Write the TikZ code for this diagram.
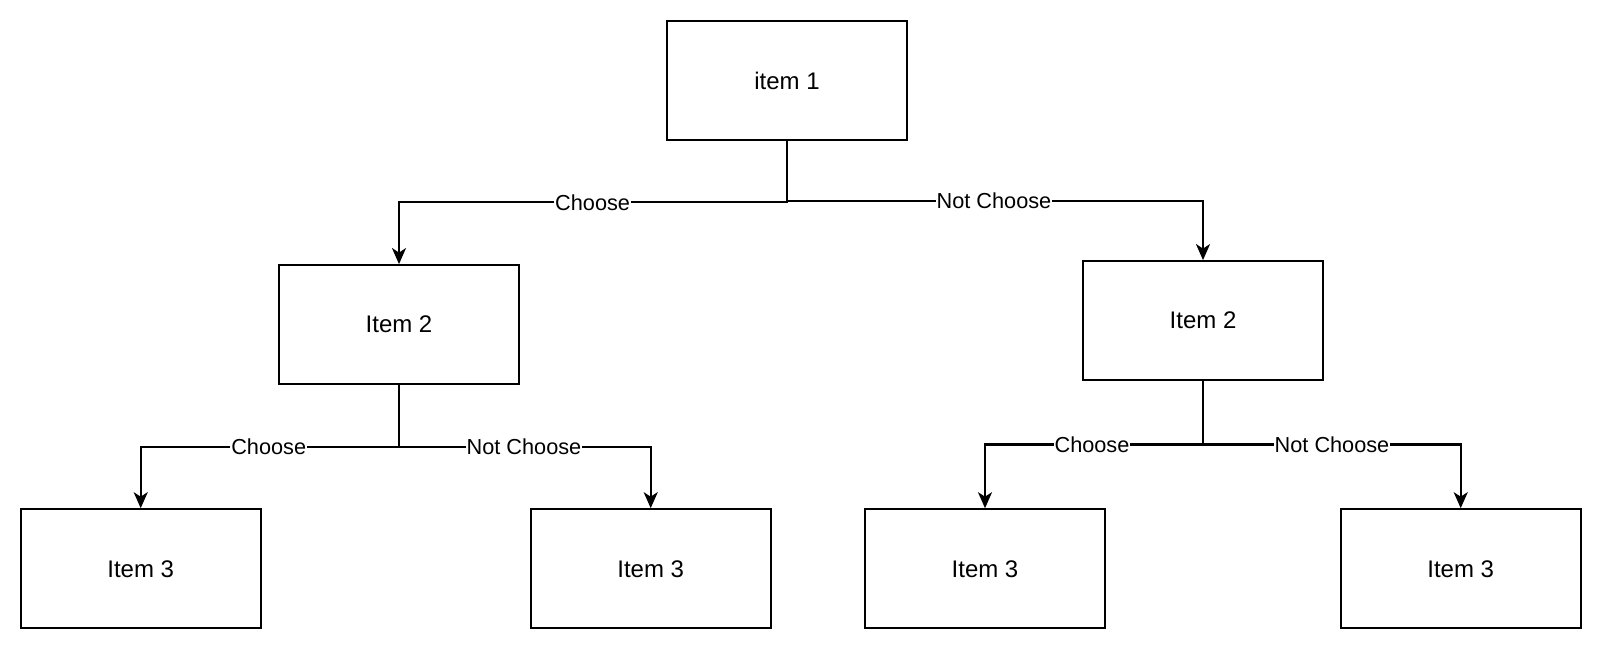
\documentclass[tikz,border=0pt]{standalone}
\usepackage{fontspec}
\setmainfont{Liberation Sans}
\usetikzlibrary{arrows.meta}
\begin{document}
\begin{tikzpicture}[x=1pt,y=-1pt,
  box/.style={draw=black, line width=2.2pt, minimum width=240pt, minimum height=119pt, inner sep=0pt, font=\fontsize{24}{28}\selectfont},
  conn/.style={draw=black, line width=2.2pt, -{Stealth[length=16pt,width=14pt,inset=4.5pt]}},
  lbl/.style={fill=white, inner sep=1pt, font=\fontsize{21.7}{26}\selectfont}]
\useasboundingbox (0,0) rectangle (1602,650);
\node[box] (i1) at (787,80.5) {item 1};
\node[box] (i2a) at (399,324.7) {Item 2};
\node[box] (i2b) at (1203,320.7) {Item 2};
\node[box] (i3a) at (140.7,568.8) {Item 3};
\node[box] (i3b) at (650.7,568.8) {Item 3};
\node[box] (i3c) at (985,568.8) {Item 3};
\node[box] (i3d) at (1460.7,568.8) {Item 3};
\coordinate (j1) at (787,202.3);
\coordinate (j2) at (787,200.7);
\coordinate (j3) at (399,446.7);
\coordinate (j4) at (1203,444.5);
\draw[conn] (i1.south) -- (j1) -| (i2a.north);
\draw[conn] (i1.south) -- (j2) -| (i2b.north);
\draw[conn] (i2a.south) -- (j3) -| (i3a.north);
\draw[conn] (i2a.south) -- (j3) -| (i3b.north);
\draw[conn] (i2b.south) -- (j4) -| (i3c.north);
\draw[conn] (i2b.south) -- (j4) -| (i3d.north);
\node[lbl] (l1) at (592.6,202.3) {Choose};
\node[lbl] (l2) at (994,200.7) {Not Choose};
\node[lbl] (l3) at (268.7,446.7) {Choose};
\node[lbl] (l4) at (524,446.7) {Not Choose};
\node[lbl] (l5) at (1092,444.5) {Choose};
\node[lbl] (l6) at (1332,444.5) {Not Choose};
\end{tikzpicture}
\end{document}
